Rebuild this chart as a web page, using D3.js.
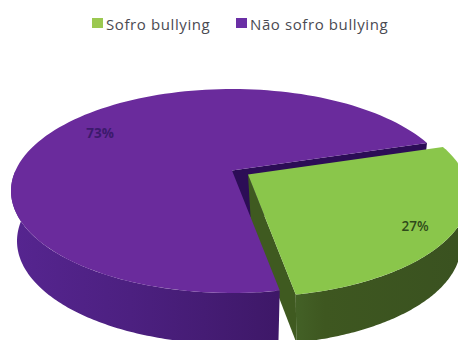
<!DOCTYPE html>
<html lang="pt">
<head>
<meta charset="utf-8">
<script src="https://cdn.jsdelivr.net/npm/d3@7/dist/d3.min.js"></script>
<style>
  html, body { margin: 0; padding: 0; background: #fff; }
  svg { display: block; }
  text { font-family: "Open Sans", Lato, sans-serif; }
</style>
</head>
<body>
<svg id="chart" width="458" height="340"></svg>
<script>
// Survey shares
const categories = ["Sofro bullying", "Não sofro bullying"];
const shares = [27, 73];
const topColors = ["#8ac64b", "#6a2b9c"];
const labelColors = ["#2f4a1a", "#3c1a6c"];

const svg = d3.select("#chart");
const defs = svg.append("defs");

// Rim ellipses of each slice: the upper face and the base below it.
const TILT = 0.2; // perspective shift of the pie centre inside the rim
const rims = [
  { top: { cx: 248, cy: 195, rx: 221, ry: 102 }, base: { cx: 251, cy: 245, rx: 210, ry: 100 } },
  { top: { cx: 232, cy: 191, rx: 221, ry: 102 }, base: { cx: 232, cy: 241, rx: 215, ry: 103 } }
];

// Projects a pie angle (clockwise from 12 o'clock) onto a tilted rim.
function project(angle, e) {
  const x = Math.sin(angle), y = Math.cos(angle);
  const w = 1 + TILT * y;
  const px = x * Math.sqrt(1 - TILT * TILT) / w;
  const py = (y + TILT) / w;
  return [e.cx + px * e.rx, e.cy - py * e.ry];
}
const centre = e => [e.cx, e.cy - TILT * e.ry];

const pie = d3.pie().sort(null).value(d => d)
  .startAngle(72.6 * Math.PI / 180)
  .endAngle((72.6 + 360) * Math.PI / 180);
const slices = pie(shares);

const line = d3.line();
const arcSteps = (a0, a1) => d3.range(0, 121).map(i => a0 + (a1 - a0) * i / 120);
const rimPoints = (a0, a1, e) => arcSteps(a0, a1).map(a => project(a, e));
const closed = pts => line(pts) + "Z";

function wallGradient(id, stops) {
  const g = defs.append("linearGradient").attr("id", id)
    .attr("gradientUnits", "userSpaceOnUse")
    .attr("x1", stops.x1).attr("x2", stops.x2).attr("y1", 0).attr("y2", 0);
  stops.colors.forEach(([o, c]) => g.append("stop").attr("offset", o).attr("stop-color", c));
}
wallGradient("wallGreen", { x1: 280, x2: 458, colors: [[0, "#46662a"], [0.25, "#3e5720"], [1, "#3a5220"]] });
wallGradient("wallPurple", { x1: 11, x2: 277, colors: [[0, "#562590"], [0.45, "#4c2080"], [1, "#3e1868"]] });

const [green, purple] = slices;

// Wall of a slice between two angles on its rims.
function outerWall(a0, a1, r) {
  return closed(rimPoints(a0, a1, r.top).concat(rimPoints(a1, a0, r.base)));
}
function cutWall(angle, r) {
  return closed([centre(r.top), project(angle, r.top), project(angle, r.base), centre(r.base)]);
}

const layer = svg.append("g");

// Purple cut face seen through the gap left by the pulled-out slice
layer.append("path").attr("d", cutWall(purple.endAngle, rims[1])).attr("fill", "#2c0d56");

// Green slice walls
layer.append("path").attr("d", cutWall(green.endAngle, rims[0])).attr("fill", "#3f5a20");
layer.append("path").attr("d", outerWall(Math.PI / 2, green.endAngle, rims[0])).attr("fill", "url(#wallGreen)");

// Purple outer wall, only the part that faces the viewer
layer.append("path").attr("d", outerWall(purple.startAngle, 1.5 * Math.PI, rims[1])).attr("fill", "url(#wallPurple)");

// Upper faces
slices.slice().reverse().forEach(s => {
  const r = rims[s.index];
  const pts = [centre(r.top)].concat(rimPoints(s.startAngle, s.endAngle, r.top));
  layer.append("path").attr("d", closed(pts)).attr("fill", topColors[s.index]);
});

// Percentage labels
const labelPos = [[415, 227], [100, 134]];
svg.append("g").selectAll("text").data(slices).join("text")
  .attr("x", d => labelPos[d.index][0])
  .attr("y", d => labelPos[d.index][1])
  .attr("text-anchor", "middle")
  .attr("dominant-baseline", "middle")
  .attr("font-size", 13.5)
  .attr("font-weight", d => d.index === 1 ? 700 : 600)
  .attr("fill", d => labelColors[d.index])
  .text(d => d.data + "%");

// Legend
const legendX = [92, 236];
const legend = svg.append("g").selectAll("g").data(categories).join("g")
  .attr("transform", (d, i) => `translate(${legendX[i]},18)`);
legend.append("rect").attr("width", 11).attr("height", 10)
  .attr("fill", (d, i) => i === 0 ? "#9bc850" : "#6a2fa5");
legend.append("text").attr("x", 14).attr("y", 11.5)
  .attr("font-size", 15).attr("letter-spacing", 0.6).attr("fill", "#4a4a52")
  .text(d => d);
</script>
</body>
</html>
